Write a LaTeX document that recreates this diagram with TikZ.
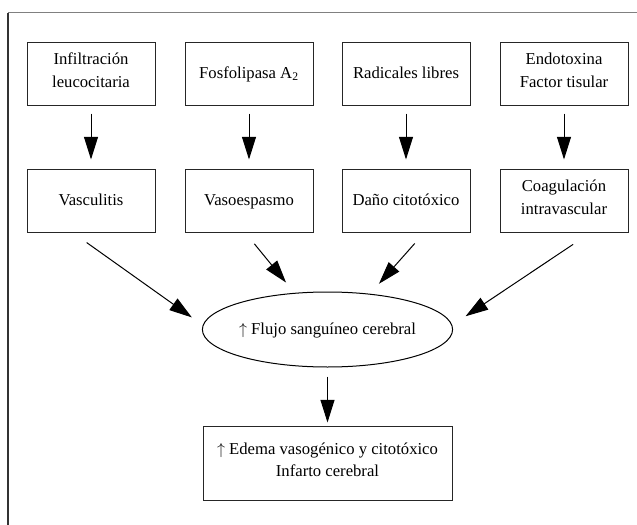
\documentclass[tikz,border=0pt]{standalone}
\usepackage{fontspec}
\setmainfont{Liberation Serif}
\usetikzlibrary{shapes.geometric, arrows.meta, positioning}

\begin{document}
\begin{tikzpicture}[x=0.75pt, y=-0.75pt,
    texto/.style={font=\fontsize{12.5}{17}\selectfont, align=center, inner sep=0pt,
        execute at begin node=\strut, execute at end node=\strut},
    caja/.style={texto, draw=black!85, line width=0.75pt, minimum width=96pt, minimum height=47.25pt},
    elipse/.style={texto, ellipse, draw=black, line width=0.75pt, minimum width=186.75pt, minimum height=56.25pt},
    flecha/.style={line width=0.75pt, -{Triangle[length=17pt, width=10.5pt]}},
    vertical/.style={flecha, shorten <=6pt, shorten >=6.75pt},
    diagonal/.style={flecha, shorten <=11pt, shorten >=10pt}]

    \useasboundingbox (0,0) rectangle (637,525);

    % Frame
    \draw[black!50, line width=1.4pt] (8,12.5) -- (637,12.5);
    \draw[black!80, line width=0.9pt] (8,12.5) -- (8,525);

    % Causes
    \node[caja] (infil) at (91,73.5) {Infiltración\\leucocitaria};
    \node[caja] (fosfo) at (249,73.5) {Fosfolipasa A\textsubscript{2}};
    \node[caja] (radic) at (406,73.5) {Radicales libres};
    \node[caja] (endo) at (564,73.5) {Endotoxina\\Factor tisular};

    % Effects
    \node[caja] (vasc) at (91,200.5) {Vasculitis};
    \node[caja] (vaso) at (249,200.5) {Vasoespasmo};
    \node[caja] (dano) at (406,200.5) {Daño citotóxico};
    \node[caja] (coag) at (564,200.5) {Coagulación\\intravascular};

    % Blood flow and outcome
    \node[elipse] (flujo) at (327.5,329.5) {$\uparrow$ Flujo sanguíneo cerebral};
    \node[caja, minimum width=186.75pt, minimum height=55.5pt] (edema) at (327.5,463)
        {$\uparrow$ Edema vasogénico y citotóxico\\Infarto cerebral};

    % Downward arrows
    \draw[vertical] (infil) -- (vasc);
    \draw[vertical] (fosfo) -- (vaso);
    \draw[vertical] (radic) -- (dano);
    \draw[vertical] (endo) -- (coag);

    % Converging arrows
    \draw[diagonal, shorten <=13pt] (vasc.240) -- (flujo.178);
    \draw[diagonal] (vaso.263) -- (flujo.132);
    \draw[diagonal] (dano.300) -- (flujo.40);
    \draw[diagonal, shorten <=16pt, shorten >=12pt] (coag.310) -- (flujo.2);

    \draw[flecha, shorten <=6.75pt, shorten >=2.25pt] (flujo) -- (edema);

\end{tikzpicture}
\end{document}
